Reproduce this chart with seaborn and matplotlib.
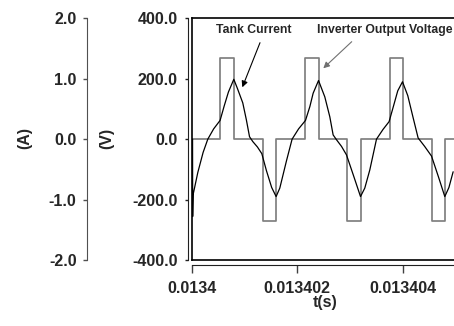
import numpy as np
import pandas as pd
import matplotlib
matplotlib.use("Agg")
import matplotlib.pyplot as plt
import seaborn as sns

# ---------------- data ----------------
T0 = 0.0134  # s, left edge of the time window
T_END_US = 5.0

# Inverter output voltage: step breakpoints (µs after T0) and levels (V)
volt_t_us = [0.0, 0.542, 0.802, 1.346, 1.611, 2.161, 2.408, 2.950, 3.215,
             3.754, 4.000, 4.555, 4.808, 5.0]
volt_v = [0, 270, 0, -270, 0, 270, 0, -270, 0, 270, 0, -270, 0, 0]

# Tank current: points (µs after T0, A)
curr_t_us = [0.020, 0.022, 0.030, 0.120, 0.220, 0.309, 0.420, 0.542, 0.620,
             0.700, 0.802, 0.870, 0.972, 1.040, 1.100, 1.162, 1.250, 1.333,
             1.420, 1.520, 1.604, 1.674, 1.800, 1.907, 2.030, 2.161, 2.244,
             2.306, 2.408, 2.527, 2.622, 2.685, 2.749, 2.844, 2.938, 3.070,
             3.204, 3.285, 3.380, 3.507, 3.630, 3.746, 3.830, 3.910, 4.000,
             4.100, 4.200, 4.296, 4.420, 4.550, 4.680, 4.802, 4.880, 4.960]
curr_a = [0.00, -1.28, -0.92, -0.55, -0.22, 0.00, 0.17, 0.31, 0.55,
          0.78, 0.99, 0.84, 0.60, 0.32, 0.04, -0.04, -0.13, -0.24,
          -0.52, -0.80, -0.95, -0.81, -0.36, 0.00, 0.17, 0.31, 0.54,
          0.76, 0.97, 0.70, 0.37, 0.07, -0.01, -0.12, -0.26, -0.60,
          -0.95, -0.81, -0.51, 0.00, 0.16, 0.29, 0.55, 0.80, 0.95,
          0.72, 0.36, 0.02, -0.12, -0.28, -0.62, -0.95, -0.80, -0.54]

x_ticks = [0.0134, 0.013402, 0.013404]
x_tick_labels = ["0.0134", "0.013402", "0.013404"]
v_ticks = [400, 200, 0, -200, -400]
v_tick_labels = ["400.0", "200.0", "0.0", "-200.0", "-400.0"]
a_ticks = [2, 1, 0, -1, -2]
a_tick_labels = ["2.0", "1.0", "0.0", "-1.0", "-2.0"]

volt_df = pd.DataFrame({"t": T0 + np.array(volt_t_us) * 1e-6, "v": volt_v})
curr_df = pd.DataFrame({"t": T0 + np.array(curr_t_us) * 1e-6, "i": curr_a})

# ---------------- style ----------------
sns.set_style("white")
plt.rcParams["font.family"] = ["Liberation Sans", "DejaVu Sans"]
plt.rcParams["font.weight"] = "bold"

W, H = 454, 326
fig = plt.figure(figsize=(W / 100, H / 100), dpi=100)

def fx(px):
    return px / W

def fy(py):
    return 1 - py / H

left_px, top_px, bot_px = 191.5, 18.3, 260.0
px_per_us = 52.75
right_px = left_px + T_END_US * px_per_us
ax = fig.add_axes([fx(left_px), fy(bot_px), (right_px - left_px) / W,
                   (bot_px - top_px) / H])
xlim = (T0, T0 + T_END_US * 1e-6)

# voltage on main axes
sns.lineplot(data=volt_df, x="t", y="v", ax=ax, color="#808080", lw=1.25,
             drawstyle="steps-post", estimator=None, sort=False, legend=False)
ax.set_xlim(*xlim)
ax.set_ylim(-400, 400)
ax.set_xticks([])
ax.set_yticks([])
ax.set_xlabel("")
ax.set_ylabel("")
for s in ax.spines.values():
    s.set_visible(True)
    s.set_color("black")
    s.set_linewidth(1.2)

# current on twin axes
ax_i = ax.twinx()
sns.lineplot(data=curr_df, x="t", y="i", ax=ax_i, color="black", lw=0.9,
             estimator=None, sort=False, legend=False)
ax_i.set_ylim(-2, 2)
ax_i.set_yticks([])
ax_i.set_ylabel("")
for s in ax_i.spines.values():
    s.set_visible(False)

tick_fs = 11.5

# V axis
ax_v = ax.twinx()
ax_v.set_ylim(-400, 400)
ax_v.yaxis.tick_left()
for name, s in ax_v.spines.items():
    s.set_visible(name == "left")
ax_v.spines["left"].set_position(("outward", 2.3))
ax_v.spines["left"].set_color("#202020")
ax_v.set_yticks(v_ticks, v_tick_labels)
ax_v.tick_params(axis="y", direction="out", length=2.5, width=1, pad=5,
                 labelsize=tick_fs, color="#202020", left=True, right=False)

# A axis
ax_a = ax.twinx()
ax_a.set_ylim(-2, 2)
ax_a.yaxis.tick_left()
for name, s in ax_a.spines.items():
    s.set_visible(name == "left")
ax_a.spines["left"].set_position(("outward", (left_px - 86.7) * 0.72))
ax_a.spines["left"].set_color("#505050")
ax_a.set_yticks(a_ticks, a_tick_labels)
ax_a.tick_params(axis="y", direction="out", length=2.8, width=1, pad=4.5,
                 labelsize=tick_fs, color="#505050", left=True, right=False)

# X axis
ax_x = ax.twiny()
ax_x.set_xlim(*xlim)
ax_x.xaxis.tick_bottom()
for name, s in ax_x.spines.items():
    s.set_visible(name == "bottom")
ax_x.spines["bottom"].set_position(("outward", 3.6))
ax_x.spines["bottom"].set_color("#202020")
ax_x.set_xticks(x_ticks, x_tick_labels)
ax_x.tick_params(axis="x", direction="out", length=5.8, width=1, pad=6,
                 labelsize=tick_fs, color="#404040", bottom=True, top=False)

# axis titles
fig.text(fx(25), fy(138), "(A)", rotation=90, ha="center", va="center",
         fontsize=11.5, fontweight="bold")
fig.text(fx(107), fy(138), "(V)", rotation=90, ha="center", va="center",
         fontsize=11.5, fontweight="bold")
fig.text(fx(325), fy(302), "t(s)", ha="center", va="center",
         fontsize=11.5, fontweight="bold")

# annotations
fig.text(fx(254), fy(30), "Tank Current", ha="center", va="center",
         fontsize=8.8, fontweight="bold")
fig.text(fx(385), fy(30), "Inverter Output Voltage", ha="center", va="center",
         fontsize=8.8, fontweight="bold")
ax.annotate("", xy=(fx(242.3), fy(87.3)), xytext=(fx(260), fy(42.7)),
            xycoords="figure fraction", textcoords="figure fraction",
            arrowprops=dict(arrowstyle="-|>", color="black", lw=0.8,
                            mutation_scale=9, shrinkA=0, shrinkB=0))
ax.annotate("", xy=(fx(323.3), fy(68.3)), xytext=(fx(351.7), fy(41.7)),
            xycoords="figure fraction", textcoords="figure fraction",
            arrowprops=dict(arrowstyle="-|>", color="#707070", lw=0.8,
                            mutation_scale=9, shrinkA=0, shrinkB=0))

fig.savefig("out.png", dpi=100)
